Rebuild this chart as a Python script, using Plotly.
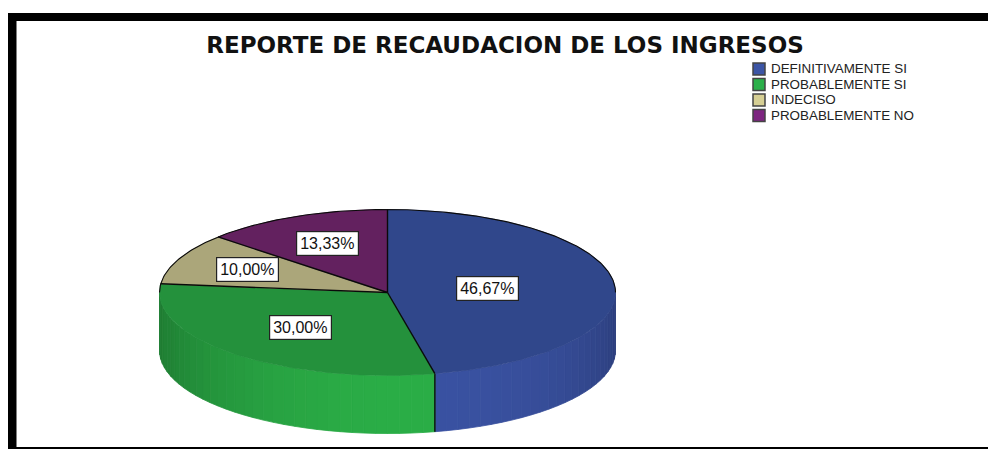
import math
import plotly.graph_objects as go

TITLE = "REPORTE DE RECAUDACION DE LOS INGRESOS"
categories = ["DEFINITIVAMENTE SI", "PROBABLEMENTE SI", "INDECISO", "PROBABLEMENTE NO"]
values = [46.67, 30.00, 10.00, 13.33]
legend_colors = ["#3c55a5", "#2bb04a", "#d6cf94", "#7d2580"]
top_colors = ["#30478b", "#24913c", "#aba67a", "#63215f"]
side_colors = ["#3a52a2", "#2bae47", "#d6cf94", "#7d2580"]
label_radius = [0.44, 0.57, 0.67, 0.65]

W, H = 988, 449
CX, CY, RX, RY, DEPTH = 387.5, 292.5, 228, 83, 58


def pt(deg, f=1.0, dy=0.0):
    a = math.radians(deg)
    return CX + RX * f * math.sin(a), CY - RY * f * math.cos(a) + dy


def arc(a0, a1, dy=0.0, step=1.0):
    n = max(1, int(abs(a1 - a0) / step))
    return [pt(a0 + (a1 - a0) * i / n, dy=dy) for i in range(n + 1)]


def shade(rgb_hex, k):
    r, g, b = (int(rgb_hex[i:i + 2], 16) for i in (1, 3, 5))
    return f"rgb({int(r * k)},{int(g * k)},{int(b * k)})"


fig = go.Figure()

total = sum(values)
edges = [0.0]
for v in values:
    edges.append(edges[-1] + v / total * 360)

# Side wall, drawn as narrow shaded strips of the front half
STRIP = 3.0
for i, color in enumerate(side_colors):
    a0, a1 = max(edges[i], 90.0), min(edges[i + 1], 270.0)
    if a1 <= a0:
        continue
    n = max(1, round((a1 - a0) / STRIP))
    for j in range(n):
        s0 = a0 + (a1 - a0) * j / n
        s1 = a0 + (a1 - a0) * (j + 1) / n
        mid = (s0 + s1) / 2
        k = 0.72 + 0.28 * max(0.0, math.cos(math.radians((mid - 172) * 0.95))) ** 1.3
        poly = arc(s0, s1) + arc(s1, s0, dy=DEPTH)
        fig.add_trace(go.Scatter(
            x=[p[0] for p in poly] + [poly[0][0]],
            y=[p[1] for p in poly] + [poly[0][1]],
            mode="lines", fill="toself", fillcolor=shade(color, k),
            line=dict(color=shade(color, k), width=0.8),
            showlegend=False, hoverinfo="skip"))

# Vertical edge between side segments
for i in range(1, len(values)):
    if 90 < edges[i] < 270:
        p0, p1 = pt(edges[i]), pt(edges[i], dy=DEPTH)
        fig.add_trace(go.Scatter(x=[p0[0], p1[0]], y=[p0[1], p1[1]], mode="lines",
                                 line=dict(color="#0c0c0c", width=1.4),
                                 showlegend=False, hoverinfo="skip"))

# Top faces
for i, color in enumerate(top_colors):
    poly = [(CX, CY)] + arc(edges[i], edges[i + 1]) + [(CX, CY)]
    fig.add_trace(go.Scatter(
        x=[p[0] for p in poly], y=[p[1] for p in poly],
        mode="lines", fill="toself", fillcolor=color,
        line=dict(color=color, width=0.6),
        showlegend=False, hoverinfo="skip"))

# Rim: black behind, soft dark in front
back = arc(270, 360) + arc(0, 90)
fig.add_trace(go.Scatter(x=[p[0] for p in back], y=[p[1] for p in back], mode="lines",
                         line=dict(color="#0a0a0a", width=1.1),
                         showlegend=False, hoverinfo="skip"))

# Radial edges
for e in edges[:-1]:
    p = pt(e)
    fig.add_trace(go.Scatter(x=[CX, p[0]], y=[CY, p[1]], mode="lines",
                             line=dict(color="#0a0a0a", width=1.4),
                             showlegend=False, hoverinfo="skip"))

# Legend: tight rows, drawn as swatches with text beside them
LEG_X, LEG_Y, LEG_STEP = 759, 69, 15.5
for i, (name, color) in enumerate(zip(categories, legend_colors)):
    y = LEG_Y + i * LEG_STEP
    fig.add_trace(go.Scatter(x=[LEG_X], y=[y], mode="markers", name=name,
                             marker=dict(symbol="square", size=12, color=color,
                                         line=dict(color="#444444", width=1.5)),
                             showlegend=False, hoverinfo="name"))
    fig.add_trace(go.Scatter(x=[LEG_X + 12], y=[y + 1], mode="text", text=[name],
                             textposition="middle right",
                             textfont=dict(family="Liberation Sans", size=13.4, color="#222222"),
                             showlegend=False, hoverinfo="skip"))

# Percentage labels
for i, v in enumerate(values):
    mid = (edges[i] + edges[i + 1]) / 2
    x, y = pt(mid, f=label_radius[i])
    fig.add_annotation(x=x, y=y, text=f"{v:.2f}%".replace(".", ","), showarrow=False,
                       font=dict(family="Liberation Sans", size=16, color="#111111"),
                       bgcolor="white", bordercolor="#222222", borderwidth=1.2, borderpad=3)

# Outer frame
for x0, y0, x1, y1 in [(8, 13, 16.5, H), (8, 13, W, 21), (8, 447, W, H)]:
    fig.add_shape(type="rect", x0=x0, y0=y0, x1=x1, y1=y1, xref="x", yref="y",
                  fillcolor="black", line=dict(width=0), layer="below")

fig.update_layout(
    width=W, height=H, margin=dict(l=0, r=0, t=0, b=0),
    paper_bgcolor="white", plot_bgcolor="white",
    xaxis=dict(range=[0, W], visible=False, fixedrange=True),
    yaxis=dict(range=[H, 0], visible=False, fixedrange=True),
    title=dict(text=f"<b>{TITLE}</b>", x=505 / W, xanchor="center", y=1 - 45 / H, yanchor="middle",
               font=dict(family="DejaVu Sans", size=23, color="#111111")),
    showlegend=False,
)

fig.write_html("out.html", config={"displayModeBar": False},
               post_script="document.body.style.margin='0';")
